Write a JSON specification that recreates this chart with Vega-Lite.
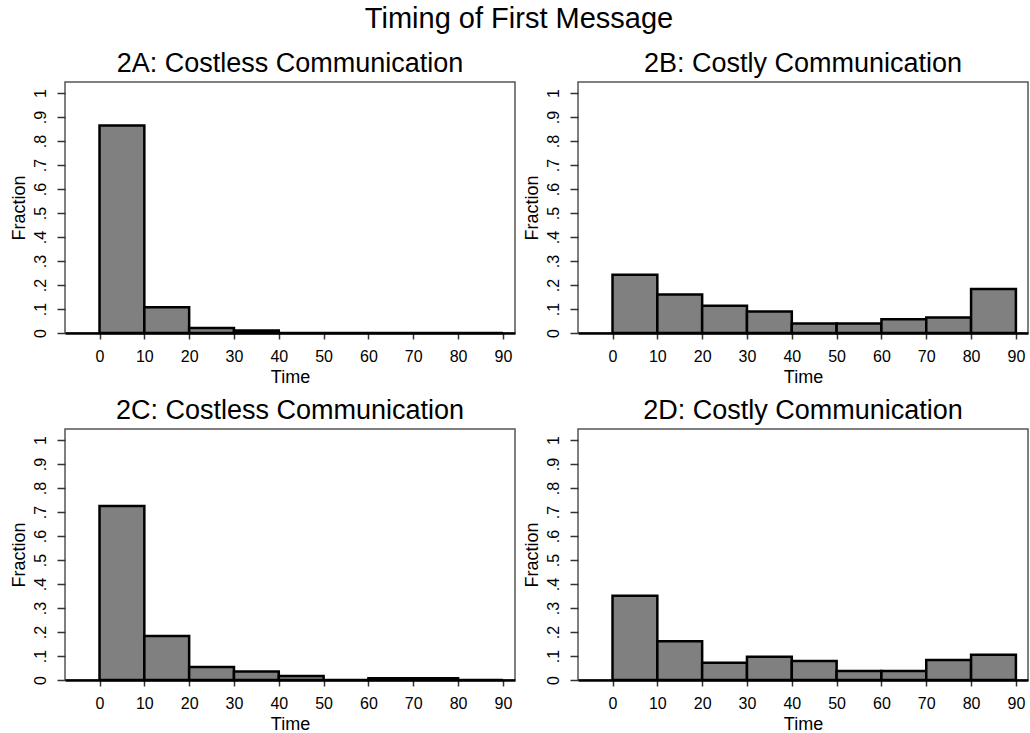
{
  "$schema": "https://vega.github.io/schema/vega-lite/v6.json",
  "background": "white",
  "padding": {"left": 9, "top": 5, "right": 1, "bottom": 2},
  "title": {"text": "Timing of First Message", "fontSize": 29, "font": "Liberation Sans", "fontWeight": "normal", "anchor": "middle", "color": "black", "offset": 15},
  "data": {"values": [
    {"panel": "2A: Costless Communication", "start": 0, "end": 10, "fraction": 0.865},
    {"panel": "2A: Costless Communication", "start": 10, "end": 20, "fraction": 0.107},
    {"panel": "2A: Costless Communication", "start": 20, "end": 30, "fraction": 0.021},
    {"panel": "2A: Costless Communication", "start": 30, "end": 40, "fraction": 0.01},
    {"panel": "2A: Costless Communication", "start": 40, "end": 50, "fraction": 0},
    {"panel": "2A: Costless Communication", "start": 50, "end": 60, "fraction": 0},
    {"panel": "2A: Costless Communication", "start": 60, "end": 70, "fraction": 0},
    {"panel": "2A: Costless Communication", "start": 70, "end": 80, "fraction": 0},
    {"panel": "2A: Costless Communication", "start": 80, "end": 90, "fraction": 0},
    {"panel": "2B: Costly Communication", "start": 0, "end": 10, "fraction": 0.243},
    {"panel": "2B: Costly Communication", "start": 10, "end": 20, "fraction": 0.16},
    {"panel": "2B: Costly Communication", "start": 20, "end": 30, "fraction": 0.114},
    {"panel": "2B: Costly Communication", "start": 30, "end": 40, "fraction": 0.09},
    {"panel": "2B: Costly Communication", "start": 40, "end": 50, "fraction": 0.04},
    {"panel": "2B: Costly Communication", "start": 50, "end": 60, "fraction": 0.04},
    {"panel": "2B: Costly Communication", "start": 60, "end": 70, "fraction": 0.057},
    {"panel": "2B: Costly Communication", "start": 70, "end": 80, "fraction": 0.065},
    {"panel": "2B: Costly Communication", "start": 80, "end": 90, "fraction": 0.183},
    {"panel": "2C: Costless Communication", "start": 0, "end": 10, "fraction": 0.725},
    {"panel": "2C: Costless Communication", "start": 10, "end": 20, "fraction": 0.183},
    {"panel": "2C: Costless Communication", "start": 20, "end": 30, "fraction": 0.054},
    {"panel": "2C: Costless Communication", "start": 30, "end": 40, "fraction": 0.035},
    {"panel": "2C: Costless Communication", "start": 40, "end": 50, "fraction": 0.017},
    {"panel": "2C: Costless Communication", "start": 50, "end": 60, "fraction": 0},
    {"panel": "2C: Costless Communication", "start": 60, "end": 70, "fraction": 0.007},
    {"panel": "2C: Costless Communication", "start": 70, "end": 80, "fraction": 0.007},
    {"panel": "2C: Costless Communication", "start": 80, "end": 90, "fraction": 0},
    {"panel": "2D: Costly Communication", "start": 0, "end": 10, "fraction": 0.351},
    {"panel": "2D: Costly Communication", "start": 10, "end": 20, "fraction": 0.162},
    {"panel": "2D: Costly Communication", "start": 20, "end": 30, "fraction": 0.072},
    {"panel": "2D: Costly Communication", "start": 30, "end": 40, "fraction": 0.097},
    {"panel": "2D: Costly Communication", "start": 40, "end": 50, "fraction": 0.079},
    {"panel": "2D: Costly Communication", "start": 50, "end": 60, "fraction": 0.0375},
    {"panel": "2D: Costly Communication", "start": 60, "end": 70, "fraction": 0.0375},
    {"panel": "2D: Costly Communication", "start": 70, "end": 80, "fraction": 0.083},
    {"panel": "2D: Costly Communication", "start": 80, "end": 90, "fraction": 0.105}
  ]},
  "facet": {"field": "panel", "type": "nominal", "title": null,
    "header": {"labelFontSize": 27, "labelFont": "Liberation Sans", "labelColor": "black", "labelPadding": 4}},
  "columns": 2,
  "spacing": {"column": 6, "row": 9},
  "resolve": {"axis": {"x": "independent", "y": "independent"}},
  "spec": {
    "width": 450,
    "height": 251,
    "mark": {"type": "rect", "fill": "#808080", "stroke": "black", "strokeWidth": 2.5},
    "encoding": {
      "x": {"field": "start", "type": "quantitative",
        "scale": {"domain": [-7.7, 92.7], "nice": false, "zero": false},
        "axis": {"values": [0, 10, 20, 30, 40, 50, 60, 70, 80, 90], "title": "Time", "grid": false,
          "labelFontSize": 16, "labelFont": "Liberation Sans", "labelColor": "black", "labelPadding": 9,
          "titleFontSize": 18, "titleFont": "Liberation Sans", "titleFontWeight": "normal", "titleColor": "black", "titlePadding": 4,
          "tickSize": 6, "tickColor": "#333", "tickWidth": 1.5, "domainColor": "black", "domainWidth": 2.5}},
      "x2": {"field": "end"},
      "y": {"field": "fraction", "type": "quantitative",
        "scale": {"domain": [0, 1.046], "nice": false},
        "axis": {"values": [0, 0.1, 0.2, 0.3, 0.4, 0.5, 0.6, 0.7, 0.8, 0.9, 1], "title": "Fraction", "grid": false,
          "labelExpr": "datum.value == 0 ? '0' : datum.value == 1 ? '1' : '.' + round(datum.value * 10)",
          "labelAngle": -90, "labelAlign": "center", "labelBaseline": "bottom",
          "labelFontSize": 16, "labelFont": "Liberation Sans", "labelColor": "black", "labelPadding": 9,
          "titleFontSize": 18, "titleFont": "Liberation Sans", "titleFontWeight": "normal", "titleColor": "black", "titlePadding": 4,
          "tickSize": 8, "tickColor": "#333", "tickWidth": 1.5, "domain": false}},
      "y2": {"datum": 0}
    }
  },
  "config": {
    "view": {"stroke": "#555", "strokeWidth": 1.5},
    "font": "Liberation Sans"
  }
}
